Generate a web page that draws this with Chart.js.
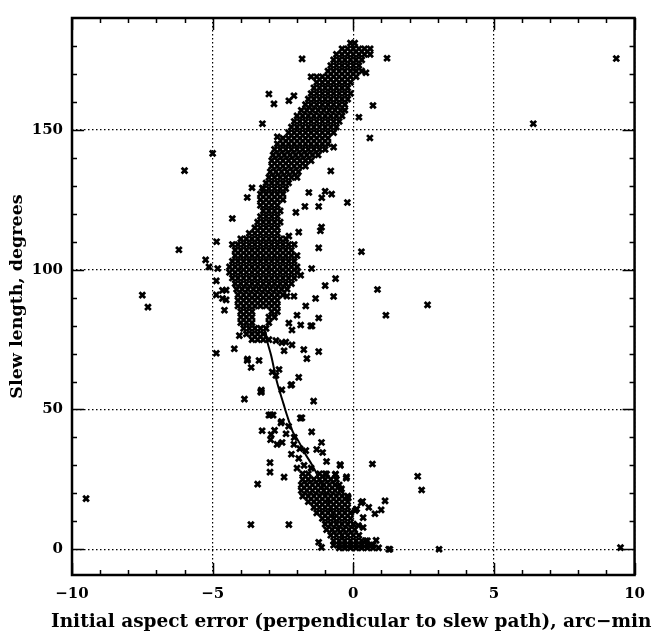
<!DOCTYPE html>
<html>
<head>
<meta charset="utf-8">
<script src="https://cdn.jsdelivr.net/npm/chart.js@4/dist/chart.umd.min.js"></script>
<style>
  html, body { margin: 0; padding: 0; background: #fff; }
  #slewChart { display: block; }
</style>
</head>
<body>
<canvas id="slewChart" width="655" height="632"></canvas>
<script>
// =========================
// DATA
// =========================
const xMajorTicks = [-10, -5, 0, 5, 10];
const yMajorTicks = [0, 50, 100, 150];
const xTitle = "Initial aspect error (perpendicular to slew path), arc\u2212min";
const yTitle = "Slew length, degrees";

// dense band: [slew length, [aspect errors...]]
const bandRows = [
    [181, [-0.1, 0.05]],
    [179, [-0.4, -0.2, 0, 0.2, 0.4, 0.6]],
    [177, [-0.6, -0.4, -0.2, 0, 0.2, 0.4, 0.6]],
    [175, [-0.7, -0.5, -0.3, -0.1, 0.1, 0.3]],
    [173, [-0.8, -0.6, -0.4, -0.2, 0, 0.2]],
    [171, [-0.9, -0.7, -0.5, -0.3, -0.1, 0.1, 0.3]],
    [169, [-1.5, -1.3, -1.1, -0.9, -0.7, -0.5, -0.3, -0.1, 0.1]],
    [167, [-1.3, -1.1, -0.9, -0.7, -0.5, -0.3, -0.1]],
    [165, [-1.4, -1.2, -1.0, -0.8, -0.6, -0.4, -0.2]],
    [163, [-1.5, -1.3, -1.1, -0.9, -0.7, -0.5, -0.3, -0.1]],
    [161, [-1.6, -1.4, -1.2, -1.0, -0.8, -0.6, -0.4, -0.2]],
    [159, [-1.7, -1.5, -1.3, -1.1, -0.9, -0.7, -0.5, -0.3]],
    [157, [-1.85, -1.65, -1.45, -1.25, -1.05, -0.85, -0.65, -0.45, -0.3]],
    [155, [-2.0, -1.8, -1.6, -1.4, -1.2, -1.0, -0.8, -0.6, -0.4]],
    [153, [-2.1, -1.9, -1.7, -1.5, -1.3, -1.1, -0.9, -0.7, -0.5]],
    [151, [-2.2, -2.0, -1.8, -1.6, -1.4, -1.2, -1.0, -0.8, -0.6]],
    [149, [-2.3, -2.1, -1.9, -1.7, -1.5, -1.3, -1.1, -0.9, -0.7]],
    [147, [-2.5, -2.3, -2.1, -1.9, -1.7, -1.5, -1.3, -1.1, -0.9]],
    [145, [-2.7, -2.5, -2.3, -2.1, -1.9, -1.7, -1.5, -1.3, -1.1, -0.9]],
    [143, [-2.8, -2.6, -2.4, -2.2, -2.0, -1.8, -1.6, -1.4, -1.2, -1.0]],
    [141, [-2.85, -2.65, -2.45, -2.25, -2.05, -1.85, -1.65, -1.45, -1.25]],
    [139, [-2.9, -2.7, -2.5, -2.3, -2.1, -1.9, -1.7, -1.5]],
    [137, [-2.9, -2.7, -2.5, -2.3, -2.1, -1.9, -1.7]],
    [135, [-2.95, -2.75, -2.55, -2.35, -2.15, -1.95]],
    [133, [-3.0, -2.8, -2.6, -2.4, -2.2, -2.0]],
    [131, [-3.1, -2.9, -2.7, -2.5, -2.3]],
    [129, [-3.2, -3.0, -2.8, -2.6, -2.4]],
    [127, [-3.3, -3.1, -2.9, -2.7, -2.5]],
    [125, [-3.3, -3.1, -2.9, -2.7, -2.5]],
    [123, [-3.3, -3.1, -2.9, -2.7]],
    [121, [-3.2, -3.0, -2.8, -2.6]],
    [119, [-3.3, -3.1, -2.9, -2.7]],
    [117, [-3.4, -3.2, -3.0, -2.8, -2.6]],
    [115, [-3.5, -3.3, -3.1, -2.9, -2.7]],
    [113, [-3.7, -3.5, -3.3, -3.1, -2.9, -2.7]],
    [111, [-4.0, -3.8, -3.6, -3.4, -3.2, -3.0, -2.8, -2.6, -2.4]],
    [109, [-4.3, -4.1, -3.9, -3.7, -3.5, -3.3, -3.1, -2.9, -2.7, -2.5, -2.3, -2.1]],
    [107, [-4.2, -4.0, -3.8, -3.6, -3.4, -3.2, -3.0, -2.8, -2.6, -2.4, -2.2]],
    [105, [-4.2, -4.0, -3.8, -3.6, -3.4, -3.2, -3.0, -2.8, -2.6, -2.4, -2.2, -2.0]],
    [103, [-4.3, -4.1, -3.9, -3.7, -3.5, -3.3, -3.1, -2.9, -2.7, -2.5, -2.3, -2.1]],
    [101, [-4.4, -4.2, -4.0, -3.8, -3.6, -3.4, -3.2, -3.0, -2.8, -2.6, -2.4, -2.2, -2.0]],
    [99, [-4.4, -4.2, -4.0, -3.8, -3.6, -3.4, -3.2, -3.0, -2.8, -2.6, -2.4, -2.2, -2.0]],
    [97, [-4.3, -4.1, -3.9, -3.7, -3.5, -3.3, -3.1, -2.9, -2.7, -2.5, -2.3, -2.1]],
    [95, [-4.2, -4.0, -3.8, -3.6, -3.4, -3.2, -3.0, -2.8, -2.6, -2.4, -2.2]],
    [93, [-4.15, -3.95, -3.75, -3.55, -3.35, -3.15, -2.95, -2.75, -2.55, -2.35]],
    [91, [-4.1, -3.9, -3.7, -3.5, -3.3, -3.1, -2.9, -2.7, -2.5]],
    [89, [-4.1, -3.9, -3.7, -3.5, -3.3, -3.1, -2.9, -2.7]],
    [87, [-4.1, -3.9, -3.7, -3.5, -3.3, -3.1, -2.9, -2.7]],
    [85, [-4.0, -3.8, -3.6, -2.9, -2.7]],
    [83, [-4.0, -3.8, -3.6, -3.0, -2.8]],
    [81, [-4.0, -3.8, -3.6, -3.0]],
    [79, [-3.9, -3.7, -3.5, -3.3, -3.1]],
    [77, [-3.8, -3.6, -3.4, -3.2]],
    [75, [-3.6, -3.4, -3.2, -3.0]],
    [27, [-1.8, -1.6, -1.2, -1.0]],
    [25, [-1.8, -1.6, -1.4, -1.2, -1.0, -0.8, -0.6]],
    [23, [-1.85, -1.65, -1.45, -1.25, -1.05, -0.85, -0.65, -0.5]],
    [21, [-1.85, -1.65, -1.45, -1.25, -1.05, -0.85, -0.65, -0.45]],
    [19, [-1.8, -1.6, -1.4, -1.2, -1.0, -0.8, -0.6, -0.4, -0.2]],
    [17, [-1.6, -1.4, -1.2, -1.0, -0.8, -0.6, -0.4, -0.2]],
    [15, [-1.4, -1.2, -1.0, -0.8, -0.6, -0.4, -0.2]],
    [13, [-1.3, -1.1, -0.9, -0.7, -0.5, -0.3, -0.1]],
    [11, [-1.1, -0.9, -0.7, -0.5, -0.3, -0.1]],
    [9, [-1.0, -0.8, -0.6, -0.4, -0.2, 0.0]],
    [7, [-0.95, -0.75, -0.55, -0.35, -0.15, 0.05]],
    [5, [-0.8, -0.6, -0.4, -0.2, 0.0, 0.2]],
    [3, [-0.7, -0.5, -0.3, -0.1, 0.1, 0.3, 0.5]],
    [1.5, [-0.7, -0.5, -0.3, -0.1, 0.1, 0.3, 0.5, 0.7]],
    [0.5, [-0.5, -0.3, -0.1, 0.1, 0.3, 0.5, 0.7, 0.9]]
];

// scattered points: [aspect error, slew length]
const sparsePoints = [
    // far outliers
    [-9.5, 18.1], [-7.5, 90.9], [-7.3, 86.6], [-6.0, 135.4], [-6.2, 107.1],
    [-5.0, 141.6], [-4.87, 70.1], [9.35, 175.5], [6.4, 152.2], [2.64, 87.4],
    [2.29, 26.1], [2.43, 21.2], [3.05, 0], [1.26, 0], [9.5, 0.6],
    [-3.87, 53.7], [-3.4, 23.3], [-3.64, 8.8], [-2.29, 8.8],
    // upper part
    [-1.82, 175.4], [1.2, 175.6], [-3.0, 162.8], [-2.82, 159.3], [-2.29, 160.4],
    [-2.11, 162.2], [-3.23, 152.2], [-2.7, 147.5], [0.7, 158.7], [0.2, 154.5],
    [0.59, 147.1], [0.45, 170.4], [-0.7, 143.8], [-0.8, 135.3], [-0.21, 124],
    [0.29, 106.4], [-1.13, 115.2], [-1.23, 107.8], [-1.0, 128], [-0.77, 127],
    [-1.23, 122.6], [-1.72, 122.6], [-2.04, 120.5], [-1.94, 113.4], [-2.29, 112],
    [-1.58, 127.6], [-3.6, 129.3], [-3.23, 129.2], [-3.77, 125.8], [-4.3, 118.3],
    [-4.86, 110], [-5.25, 103.5], [-5.13, 101], [-4.82, 100.4], [-4.87, 96],
    [-4.87, 91], [-4.52, 92.7], [-4.52, 89.2], [-1.17, 113.9], [-1.12, 125.7],
    // middle part
    [-0.63, 96.8], [-1.0, 94.3], [-0.7, 90.4], [0.86, 92.9], [1.16, 83.7],
    [-1.34, 89.7], [-1.23, 82.7], [-1.51, 79.9], [-1.87, 80.2], [-2.29, 80.9],
    [-2.18, 78.4], [-1.76, 71.4], [-1.23, 70.7], [-1.65, 68.2], [-2.18, 73.1],
    [-2.54, 73.9], [-2.75, 74.6], [-2.46, 71], [-4.23, 71.7], [-3.77, 67.5],
    [-3.63, 65], [-3.35, 67.5], [-4.65, 92.6], [-4.58, 85.5], [-4.65, 89.7],
    [-1.94, 61.5], [-2.22, 58.7], [-3.27, 56.9], [-2.75, 62.2], [-2.64, 64.3],
    [-1.48, 100.4], [-1.87, 98], [-2.11, 90.5], [-1.69, 87], [-2.0, 83.7],
    [-2.36, 90.5], [-2.88, 63.4], [-2.54, 57], [-4.05, 76.4], [-3.76, 68],
    [-2.4, 74.1], [-1.47, 79.9], [-3.29, 56.3],
    // lower part
    [-3.27, 56.2], [-1.41, 53], [-3.0, 48], [-2.85, 48], [-2.94, 48.1],
    [-2.57, 45.2], [-2.55, 45.7], [-1.83, 47], [-3.24, 42.4], [-2.92, 41],
    [-2.8, 42.5], [-2.39, 41.3], [-1.48, 42], [-2.71, 37.5], [-2.53, 38.2],
    [-2.11, 37.5], [-1.69, 35.3], [-1.13, 38.2], [-1.3, 35.7], [-1.09, 34.6],
    [-1.94, 32.5], [-2.96, 31], [-2.96, 27.6], [-2.46, 25.8], [-0.95, 31.4],
    [-0.46, 30], [0.68, 30.5], [-0.95, 26.9], [-0.63, 26.9], [-0.25, 25.4],
    [-2.0, 29], [-1.75, 30], [-1.5, 29], [-2.2, 34], [-1.9, 36],
    [-2.3, 44], [-2.1, 40], [-2.94, 39.2], [-1.88, 46.9], [-2.19, 58.9],
    // bottom right
    [0.28, 16.6], [0.07, 13.8], [0.35, 11.3], [1.13, 17.3], [0.99, 14.1],
    [0.77, 12.7], [-0.42, 21.6], [-0.18, 18.4], [0.35, 7.8], [0.81, 3.2],
    [1.3, 0], [-1.23, 2.5], [-1.13, 0.7], [0.33, 17.1], [0.18, 8.5],
    [0.12, 14.4], [-0.47, 30.3], [-0.24, 25.9], [-0.64, 26.7], [0.55, 15],
    [0.45, 3], [0.6, 1.5]
];

// fitted trend line
const curveX = [-0.3, -0.5, -0.75, -1.0, -1.25, -1.48, -1.7, -1.94, -2.15, -2.36, -2.48, -2.71, -2.92, -3.05, -3.11];
const curveY = [2, 7, 13, 20, 26, 30.4, 34, 38.5, 42, 48, 52, 59.7, 69.3, 74, 77.4];

// =========================
// BUILD DATASETS
// =========================
const bandPoints = [];
bandRows.forEach(([y, xs]) => xs.forEach(x => bandPoints.push({ x, y })));
const scatterPoints = sparsePoints.map(([x, y]) => ({ x, y }));
const curvePoints = curveX.map((x, i) => ({ x, y: curveY[i] }));

const FONT = "'DejaVu Serif', serif";
const minus = v => String(v).replace("-", "\u2212");

// frame + inward tick marks on all four sides, x title (wider than plot)
const frameTicks = {
    id: "frameTicks",
    afterDraw(chart) {
        const { ctx, chartArea: a, scales: { x, y } } = chart;
        ctx.save();
        ctx.strokeStyle = "#000";
        ctx.lineWidth = 1.5;
        ctx.beginPath();
        for (let v = -10; v <= 10; v++) {
            const px = Math.round(x.getPixelForValue(v)) + 0.5;
            const len = v % 5 === 0 ? 12 : 5;
            ctx.moveTo(px, a.bottom); ctx.lineTo(px, a.bottom - len);
            ctx.moveTo(px, a.top); ctx.lineTo(px, a.top + len);
        }
        for (let v = 0; v <= 180; v += 10) {
            const py = Math.round(y.getPixelForValue(v)) + 0.5;
            const len = v % 50 === 0 ? 12 : 5;
            ctx.moveTo(a.left, py); ctx.lineTo(a.left + len, py);
            ctx.moveTo(a.right, py); ctx.lineTo(a.right - len, py);
        }
        ctx.stroke();
        ctx.lineWidth = 2.5;
        ctx.strokeRect(a.left, a.top, a.right - a.left, a.bottom - a.top);

        // x axis title
        ctx.fillStyle = "#000";
        ctx.font = "bold 18.5px " + FONT;
        ctx.textAlign = "center";
        ctx.textBaseline = "middle";
        ctx.fillText(xTitle, (a.left + a.right) / 2 - 2, chart.height - 10);
        ctx.restore();
    }
};

const markStyle = {
    pointStyle: "crossRot",
    pointRadius: 4,
    pointBorderWidth: 2.8,
    pointBorderColor: "#000",
    pointBackgroundColor: "#000",
    showLine: false
};

new Chart(document.getElementById("slewChart"), {
    type: "scatter",
    data: {
        datasets: [
            {
                label: "trend",
                data: curvePoints,
                showLine: true,
                borderColor: "#000",
                borderWidth: 2,
                pointRadius: 0,
                tension: 0.3,
                fill: false
            },
            { label: "band", data: bandPoints, ...markStyle },
            { label: "scatter", data: scatterPoints, ...markStyle }
        ]
    },
    options: {
        responsive: false,
        animation: false,
        devicePixelRatio: 1,
        layout: { padding: { left: 0, right: 15, top: 13, bottom: 0 } },
        plugins: {
            legend: { display: false },
            tooltip: { enabled: false }
        },
        scales: {
            x: {
                type: "linear",
                min: -10,
                max: 10,
                afterBuildTicks: s => { s.ticks = xMajorTicks.map(v => ({ value: v })); },
                afterFit: s => { s.height = 57; },
                grid: { color: "#000", lineWidth: 1.2, drawTicks: false },
                border: { display: false, dash: [1.5, 2.5] },
                ticks: {
                    color: "#000",
                    padding: 10,
                    maxRotation: 0,
                    font: { family: FONT, weight: "bold", size: 15 },
                    callback: v => minus(v)
                },
                title: { display: false }
            },
            y: {
                type: "linear",
                min: -9.2,
                max: 190,
                afterBuildTicks: s => { s.ticks = yMajorTicks.map(v => ({ value: v })); },
                afterFit: s => { s.width = 72; },
                grid: { color: "#000", lineWidth: 1.2, drawTicks: false },
                border: { display: false, dash: [1.5, 2.5] },
                ticks: {
                    color: "#000",
                    padding: 9,
                    font: { family: FONT, weight: "bold", size: 15 },
                    callback: v => minus(v)
                },
                title: {
                    display: true,
                    text: yTitle,
                    color: "#000",
                    padding: { top: 7, bottom: 0 },
                    font: { family: FONT, weight: "bold", size: 17.5 }
                }
            }
        }
    },
    plugins: [frameTicks]
});
</script>
</body>
</html>
